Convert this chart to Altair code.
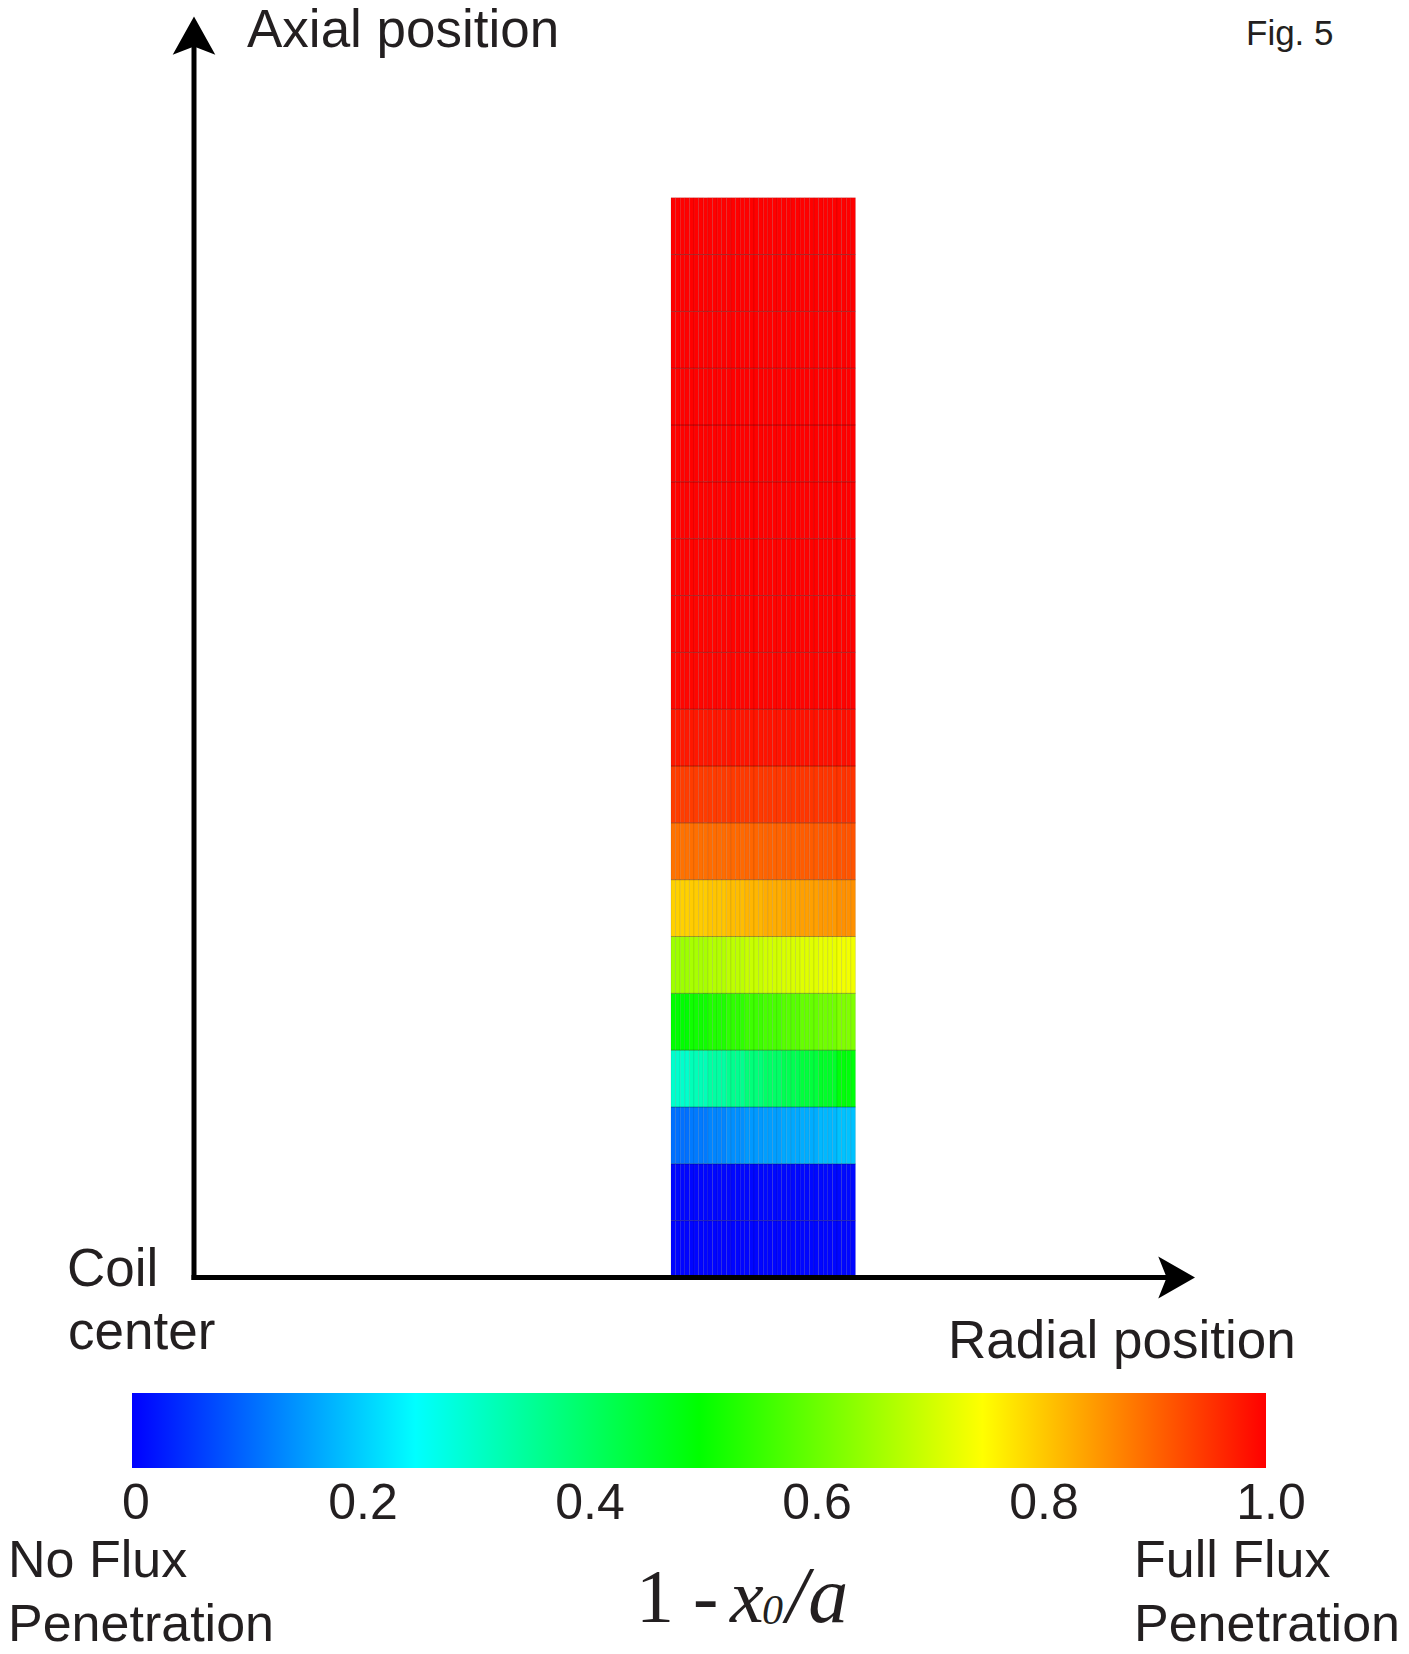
import altair as alt
import pandas as pd

# ---------------- data ----------------
# geometry of the coil cross-section (arbitrary units, axes run 0..100)
X_MAX = 100.0
Y_MAX = 100.0
R_IN = 47.65
R_OUT = 66.08
Z_TOP = 85.63
N_COLS = 40
N_ROWS = 19

# 1 - x0/a for each row of cells (bottom row first), sampled left -> right
row_01 = [0.004, 0.004, 0.004, 0.004, 0.005, 0.005, 0.005, 0.006, 0.006, 0.006]
row_02 = [0.006, 0.006, 0.007, 0.007, 0.007, 0.008, 0.008, 0.008, 0.009, 0.009]
row_03 = [0.11, 0.12, 0.13, 0.14, 0.15, 0.155, 0.165, 0.17, 0.18, 0.19]
row_04 = [0.30, 0.32, 0.34, 0.36, 0.38, 0.40, 0.42, 0.44, 0.46, 0.49]
row_05 = [0.50, 0.515, 0.53, 0.545, 0.56, 0.57, 0.585, 0.60, 0.61, 0.625]
row_06 = [0.655, 0.665, 0.675, 0.685, 0.695, 0.705, 0.712, 0.72, 0.728, 0.737]
row_07 = [0.795, 0.80, 0.807, 0.815, 0.822, 0.83, 0.837, 0.843, 0.85, 0.858]
row_08 = [0.888, 0.891, 0.894, 0.897, 0.90, 0.903, 0.906, 0.91, 0.913, 0.918]
row_09 = [0.940, 0.941, 0.942, 0.943, 0.944, 0.945, 0.946, 0.947, 0.948, 0.950]
row_10 = [0.976, 0.977, 0.978, 0.979, 0.980, 0.981, 0.982, 0.983, 0.984, 0.985]
row_11 = [0.994, 0.994, 0.995, 0.995, 0.995, 0.996, 0.996, 0.996, 0.997, 0.997]
row_12 = [0.996, 0.996, 0.996, 0.997, 0.997, 0.997, 0.998, 0.998, 0.998, 0.998]
row_13 = [0.997, 0.997, 0.998, 0.998, 0.998, 0.998, 0.999, 0.999, 0.999, 0.999]
row_14 = [0.998, 0.998, 0.998, 0.999, 0.999, 0.999, 0.999, 0.999, 1.0, 1.0]
row_15 = [0.999, 0.999, 0.999, 0.999, 0.999, 1.0, 1.0, 1.0, 1.0, 1.0]
row_16 = [0.999, 0.999, 1.0, 1.0, 1.0, 1.0, 1.0, 1.0, 1.0, 1.0]
row_17 = [1.0, 1.0, 1.0, 1.0, 1.0, 1.0, 1.0, 1.0, 1.0, 1.0]
row_18 = [1.0, 1.0, 1.0, 1.0, 1.0, 1.0, 1.0, 1.0, 1.0, 1.0]
row_19 = [1.0, 1.0, 1.0, 1.0, 1.0, 1.0, 1.0, 1.0, 1.0, 1.0]
rows = [row_01, row_02, row_03, row_04, row_05, row_06, row_07, row_08, row_09,
        row_10, row_11, row_12, row_13, row_14, row_15, row_16, row_17, row_18, row_19]

# colour scale stops and colour-bar ticks
CMAP_DOMAIN = [0.0, 0.25, 0.5, 0.75, 1.0]
CMAP_RANGE = ["#0000ff", "#00ffff", "#00ff00", "#ffff00", "#ff0000"]
TICK_VALUES = [0.0, 0.2, 0.4, 0.6, 0.8, 1.0]
TICK_LABELS = ["0", "0.2", "0.4", "0.6", "0.8", "1.0"]

# texts
AXIAL_LABEL = "Axial position"
RADIAL_LABEL = "Radial position"
FIG_LABEL = "Fig. 5"
ORIGIN_LABEL = ["Coil", "center"]
LEFT_LABEL = ["No Flux", "Penetration"]
RIGHT_LABEL = ["Full Flux", "Penetration"]
FORMULA = ["1 -", "x", "0", "/a"]

TEXT_COLOR = "#231f20"
SANS = "Liberation Sans"
SERIF = "Liberation Serif"

# ---------------- build tables ----------------
dr = (R_OUT - R_IN) / N_COLS
dz = Z_TOP / N_ROWS
cells = []
for i, row in enumerate(rows):
    for j in range(N_COLS):
        v = row[j * len(row) // N_COLS]
        cells.append({"r0": R_IN + j * dr, "r1": R_IN + (j + 1) * dr,
                      "z0": i * dz, "z1": (i + 1) * dz, "v": v})
cells_df = pd.DataFrame(cells)
edges_df = pd.DataFrame({"z": [k * dz for k in range(1, N_ROWS)],
                         "r0": R_IN, "r1": R_OUT})
ticks_df = pd.DataFrame({"tick": TICK_VALUES, "label": TICK_LABELS})

xs = alt.Scale(domain=[0, X_MAX], nice=False, zero=False)
ys = alt.Scale(domain=[0, Y_MAX], nice=False, zero=False)

legend = alt.Legend(
    orient="none", legendX=-62, legendY=1376.5, direction="horizontal",
    gradientLength=1134, gradientThickness=75, gradientStrokeWidth=0,
    values=TICK_VALUES, labelOpacity=0, labelFontSize=1, padding=0, title=None,
)

cell_layer = alt.Chart(cells_df).mark_rect(
    stroke="black", strokeOpacity=0.13, strokeWidth=0.7
).encode(
    x=alt.X("r0:Q", scale=xs, axis=None),
    x2="r1:Q",
    y=alt.Y("z0:Q", scale=ys, axis=None),
    y2="z1:Q",
    color=alt.Color("v:Q", scale=alt.Scale(domain=CMAP_DOMAIN, range=CMAP_RANGE,
                                          interpolate="rgb"), legend=legend),
)

edge_layer = alt.Chart(edges_df).mark_rule(
    color="black", strokeOpacity=0.22, strokeWidth=1
).encode(
    x=alt.X("r0:Q", scale=xs, axis=None), x2="r1:Q",
    y=alt.Y("z:Q", scale=ys, axis=None),
)

axis_v = alt.Chart(pd.DataFrame({"x": [0.0], "y": [0.0], "y2": [Y_MAX - 2]})).mark_rule(
    color="black", strokeWidth=5, strokeCap="square"
).encode(x=alt.X("x:Q", scale=xs, axis=None),
         y=alt.Y("y:Q", scale=ys, axis=None), y2="y2:Q")

axis_h = alt.Chart(pd.DataFrame({"x": [0.0], "x2": [X_MAX - 2], "y": [0.0]})).mark_rule(
    color="black", strokeWidth=5, strokeCap="square"
).encode(x=alt.X("x:Q", scale=xs, axis=None), x2="x2:Q",
         y=alt.Y("y:Q", scale=ys, axis=None))

arrow_up = alt.Chart(pd.DataFrame({"x": [0.0], "y": [Y_MAX]})).mark_point(
    shape="M0,0L1,1.8L0,1.41L-1,1.8Z", size=1815, filled=True,
    color="black", opacity=1, strokeWidth=0
).encode(x=alt.X("x:Q", scale=xs, axis=None), y=alt.Y("y:Q", scale=ys, axis=None))

arrow_right = alt.Chart(pd.DataFrame({"x": [X_MAX], "y": [0.0]})).mark_point(
    shape="M0,0L-1.75,-1L-1.35,0L-1.75,1Z", size=1764, filled=True,
    color="black", opacity=1, strokeWidth=0
).encode(x=alt.X("x:Q", scale=xs, axis=None), y=alt.Y("y:Q", scale=ys, axis=None))

# colour-bar tick labels, placed through their own scale along the colour bar
tick_layer = alt.Chart(ticks_df).mark_text(
    align="center", baseline="alphabetic", font=SANS, fontSize=50, color=TEXT_COLOR
).encode(
    x=alt.X("tick:Q", scale=alt.Scale(domain=[0, 1], range=[-58, 1077], nice=False),
            axis=None),
    y=alt.value(1502),
    text="label:N",
)


def label(text, x, y, size, font=SANS, style="normal"):
    return alt.Chart(alt.Data(values=[{"t": text}])).mark_text(
        align="left", baseline="alphabetic", font=font, fontSize=size,
        fontStyle=style, color=TEXT_COLOR
    ).encode(x=alt.value(x), y=alt.value(y), text="t:N")


texts = [
    label(AXIAL_LABEL, 53, 30.2, 53),
    label(FIG_LABEL, 1052, 28.5, 35),
    label(ORIGIN_LABEL[0], -127, 1269.2, 53),
    label(ORIGIN_LABEL[1], -126, 1332.8, 53),
    label(RADIAL_LABEL, 754, 1341.5, 53),
    label(LEFT_LABEL[0], -186, 1560.5, 52),
    label(LEFT_LABEL[1], -186, 1624.5, 52),
    label(RIGHT_LABEL[0], 940, 1560.5, 52),
    label(RIGHT_LABEL[1], 940, 1624.5, 52),
    label(FORMULA[0], 442, 1605.5, 76, font=SERIF),
    label(FORMULA[1], 536, 1605.5, 76, font=SERIF, style="italic"),
    label(FORMULA[2], 568, 1607, 42, font=SERIF, style="italic"),
    label(FORMULA[3], 592, 1605.5, 80, font=SERIF, style="italic"),
]

chart = alt.layer(
    cell_layer, edge_layer, axis_v, axis_h, arrow_up, arrow_right, tick_layer, *texts
).resolve_scale(
    x="independent"
).properties(
    width=1001, height=1261,
    padding={"left": 186, "top": 8.5, "right": 206, "bottom": 368.5},
    autosize=alt.AutoSizeParams(type="none"),
    background="white",
).configure_view(strokeWidth=0)

chart.save("out.html", embed_options={"renderer": "svg", "actions": False})
